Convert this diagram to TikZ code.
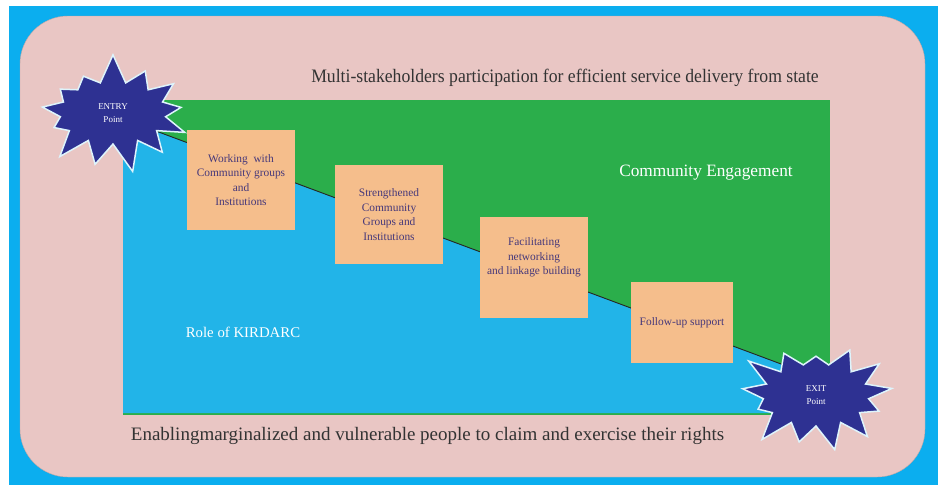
\documentclass[tikz,border=0pt]{standalone}
\usepackage{fontspec}
\setmainfont{Liberation Serif}
\usepackage{tikz}
\usetikzlibrary{shapes,calc}
\usetikzlibrary{backgrounds,positioning}
\definecolor{framecyan}{HTML}{0BAEEF}
\definecolor{panelpink}{HTML}{E9C6C4}
\definecolor{engagegreen}{HTML}{2BAE4B}
\definecolor{roleblue}{HTML}{22B4E8}
\definecolor{boxorange}{HTML}{F5BE8C}
\definecolor{starnavy}{HTML}{2E3192}
\definecolor{boxtext}{HTML}{46387A}
\definecolor{captiongray}{HTML}{333333}

\tikzset{
  stagebox/.style={fill=boxorange, align=center, text=boxtext, inner sep=2pt,
    font=\fontsize{11.4}{14.5}\selectfont},
  burst/.style={starburst, starburst points=13, starburst point height=30pt,
    random starburst=7, fill=starnavy, draw=white!85!roleblue, line width=1.5pt,
    text=white, align=center, font=\fontsize{9}{13}\selectfont,
    minimum width=166pt, minimum height=122pt, inner sep=0pt},
  caption/.style={text=captiongray, font=\fontsize{19}{22}\selectfont, anchor=base},
}

\begin{document}
\begin{tikzpicture}[x=1pt, y=-1pt]
\useasboundingbox (0,0) rectangle (938,485);
\fill[white] (0,0) rectangle (938,485);
\fill[framecyan] (9,6) rectangle (938,485);
\filldraw[panelpink, draw=gray!45!panelpink, rounded corners=48pt] (20,16) rectangle (925,477);

\coordinate (entryc) at (113,115);
\coordinate (linend) at (816,377);

\fill[engagegreen] (123,100) rectangle (830,415);
\fill[roleblue] (123,119) -- (830,382.5) -- (830,413) -- (123,413) -- cycle;
\draw[line width=0.9pt, black!85] (entryc) -- (linend);

\node[caption, xscale=0.93] (title) at (565,82.5) {Multi-stakeholders participation for efficient service delivery from state};
\node[caption] (rights) at (427.5,440) {Enablingmarginalized and vulnerable people to claim and exercise their rights};
\node[text=white, font=\fontsize{17.3}{20}\selectfont] (engage) at (706,173) {Community Engagement};
\node[text=white, font=\fontsize{14.8}{18}\selectfont] (role) at (243,332) {Role of KIRDARC};

\node[stagebox, minimum width=108pt, minimum height=100pt] (working) at (241,180)
  {Working\ \ with\\Community groups\\and\\Institutions};
\node[stagebox, minimum width=108pt, minimum height=99pt] (strengthened) at (389,214.5)
  {Strengthened\\Community\\Groups and\\Institutions};
\node[stagebox, minimum width=108pt, minimum height=101pt, text depth=22pt] (networking) at (534,267.5)
  {Facilitating\\networking\\and linkage building};
\node[stagebox, minimum width=102pt, minimum height=81pt] (followup) at (682,322.5)
  {Follow-up support};

\node[burst] (entry) at (113,113) {ENTRY\\Point};
\node[burst, random starburst=23] (exit) at (816,395) {EXIT\\Point};
\end{tikzpicture}
\end{document}
